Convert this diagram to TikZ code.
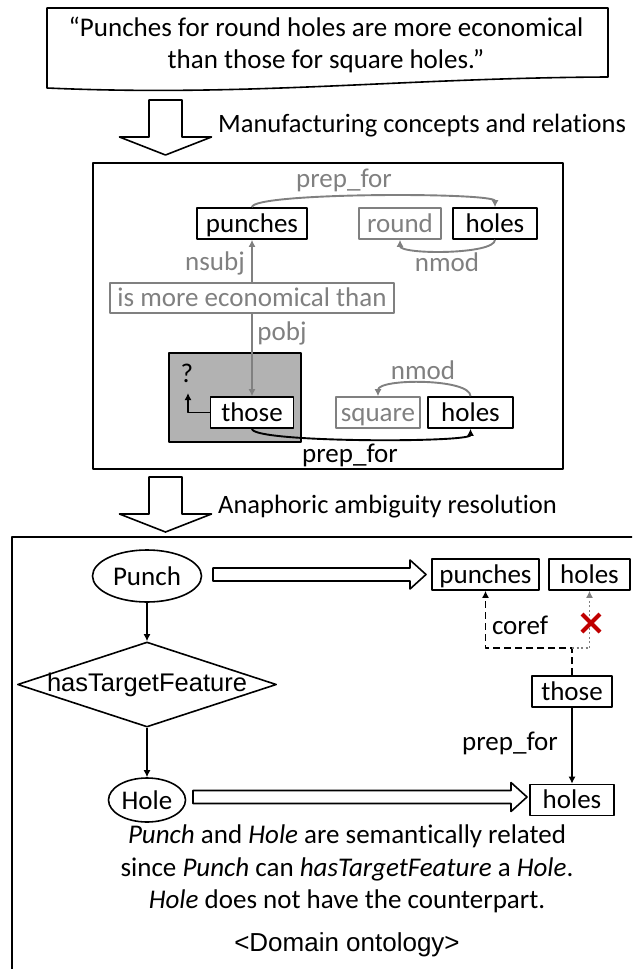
\documentclass[tikz,border=0pt]{standalone}
\usepackage{fontspec}
\setmainfont{Carlito}[Ligatures={TeX,NoCommon}]
\newfontfamily\arialfont{Liberation Sans}
\usetikzlibrary{calc,arrows.meta,shapes.geometric,shapes.misc}
\definecolor{depgray}{gray}{0.5}
\definecolor{shadegray}{gray}{0.7}
\definecolor{crossred}{RGB}{192,0,0}
\def\downblock(#1,#2){\draw[line width=1.6pt] (#1-16.5,#2) -- (#1+16.5,#2) -- (#1+16.5,#2+37) -- (#1+46,#2+37) -- (#1,#2+55) -- (#1-46,#2+37) -- (#1-16.5,#2+37) -- cycle}
\def\rightblock(#1,#2)(#3){\draw[line width=1.6pt] (#1,#2-6.5) -- (#3-16,#2-6.5) -- (#3-16,#2-14.5) -- (#3,#2) -- (#3-16,#2+14.5) -- (#3-16,#2+6.5) -- (#1,#2+6.5) -- cycle}
\tikzset{
	wordbox/.style={draw, line width=1.6pt, fill=white, minimum height=31pt, inner sep=0pt, text height=19pt, text depth=2pt},
	greybox/.style={wordbox, draw=depgray, text=depgray},
	deplabel/.style={text=depgray},
	deparrow/.style={depgray, line width=1.9pt, -{Latex[length=7pt,width=7pt]}},
	linkarrow/.style={black, line width=1.9pt, -{Latex[length=7pt,width=7pt]}},
	concept/.style={ellipse, draw, line width=1.6pt, inner sep=0pt},
	relation/.style={diamond, draw, line width=1.6pt, inner sep=0pt},
	steplabel/.style={anchor=west, font=\fontsize{26.5}{32}\selectfont},
}

\begin{document}
\begin{tikzpicture}[x=1pt, y=-1pt, line join=round, inner sep=1pt, font=\fontsize{27}{32.5}\selectfont]
			%%%%% START %%%%%
			\path[use as bounding box, clip] (0,0) rectangle (632,969);
			
			\draw[line width=1.6pt] (47,8) -- (608,8) -- (608,77) .. controls (400,78) and (250,97) .. (47,88) -- cycle;
			\node[align=center] (quote) at (326,45) {“Punches for round holes are more economical\\than those for square holes.”};
			
			\downblock(165.5,100);
			\node[steplabel] (stepA) at (217,125.5) {Manufacturing concepts and relations};
			
			\draw[line width=1.8pt] (93,163) rectangle (563,469);
			
			\node[wordbox, minimum width=110pt] (punchesA) at (252,223.5) {punches};
			\node[greybox, minimum width=82pt] (round) at (400,223.5) {round};
			\node[wordbox, minimum width=84pt] (holesA) at (495,223.5) {holes};
			\node[greybox, minimum width=284pt, minimum height=30pt] (econ) at (252,298) {is more economical than};
			\node[draw, fill=shadegray, line width=1.6pt, minimum width=132pt, minimum height=89pt, inner sep=0pt] (focus) at (235,397.5) {};
			\node[wordbox, minimum width=83pt] (thoseA) at (252,412.5) {those};
			\node[greybox, minimum width=84pt] (square) at (378,412.5) {square};
			\node[wordbox, minimum width=85pt] (holesB) at (470.5,412.5) {holes};
			
			\draw[deparrow] (punchesA.north) .. controls +(0,-15) and +(0,-15) .. (holesA.north);
			\node[deplabel] (prepA) at (344,180) {prep\_for};
			\draw[deparrow] (holesA.south) .. controls +(0,15) and +(0,15) .. (round.south);
			\node[deplabel] (nmodA) at (447,262) {nmod};
			\draw[deparrow] (econ.north) -- (punchesA.south);
			\node[deplabel] (nsubj) at (215,263) {nsubj};
			\draw[deparrow] (econ.south) -- (thoseA.north);
			\node[deplabel] (pobj) at (282,333) {pobj};
			\draw[deparrow] (holesB.north) .. controls +(0,-18) and +(0,-18) .. (square.north);
			\node[deplabel] (nmodB) at (423,370) {nmod};
			\draw[linkarrow] (thoseA.south) .. controls +(0,14) and +(0,14) .. (holesB.south);
			\node (prepB) at (350,455) {prep\_for};
			
			\node (qmark) at (187,373) {?};
			\coordinate (qtip) at (188,393);
			\draw[linkarrow] (thoseA.west) -| (qtip);
			
			\downblock(165.5,477);
			\node[steplabel] (stepB) at (217,507) {Anaphoric ambiguity resolution};
			
			\draw[line width=1.8pt] (645,537) -- (12,537) -- (12,980);
			
			\node[concept, minimum width=109pt, minimum height=52pt] (punch) at (147,576) {Punch};
			\node[relation, minimum width=259pt, minimum height=85pt] (feature) at (147,684.5) {\makebox[0pt]{\arialfont\fontsize{25.5}{30}\selectfont hasTargetFeature}};
			\node[concept, minimum width=77pt, minimum height=44pt] (hole) at (147,800) {Hole};
			\draw[linkarrow] (punch.south) -- (feature.north);
			\draw[linkarrow] (feature.south) -- (hole.north);
			
			\rightblock(213,574.5)(426);
			\rightblock(193,797)(527);
			
			\node[wordbox, minimum width=107pt] (punchesB) at (485.5,574.5) {punches};
			\node[wordbox, minimum width=81pt] (holesC) at (589.5,574.5) {holes};
			\node[wordbox, minimum width=80pt] (thoseB) at (572,691.5) {those};
			\node[wordbox, minimum width=84pt] (holesD) at (572,800) {holes};
			
			\coordinate (fork) at (572,648);
			\draw[linkarrow, dash pattern=on 7pt off 4pt] (thoseB.north) -- (fork) -| (punchesB.south);
			\draw[deparrow, line width=1.7pt, dash pattern=on 2pt off 2.5pt] (fork) -| (holesC.south);
			\node[cross out, draw=crossred, line width=4pt, minimum size=14pt, inner sep=0pt] (nolink) at (591,623) {};
			\node (coref) at (520,625) {coref};
			\draw[linkarrow] (thoseB.south) -- (holesD.north);
			\node (prepC) at (510,743) {prep\_for};
			
			\node[align=center] (note) at (347,869) {\textit{Punch} and \textit{Hole} are semantically related\\since \textit{Punch} can \textit{hasTargetFeature} a \textit{Hole}.\\\textit{Hole} does not have the counterpart.};
			\node[font=\arialfont\fontsize{26}{30}\selectfont] (ontology) at (347,945) {<Domain ontology>};
			
			%%%%% END %%%%%
\end{tikzpicture}
\end{document}
